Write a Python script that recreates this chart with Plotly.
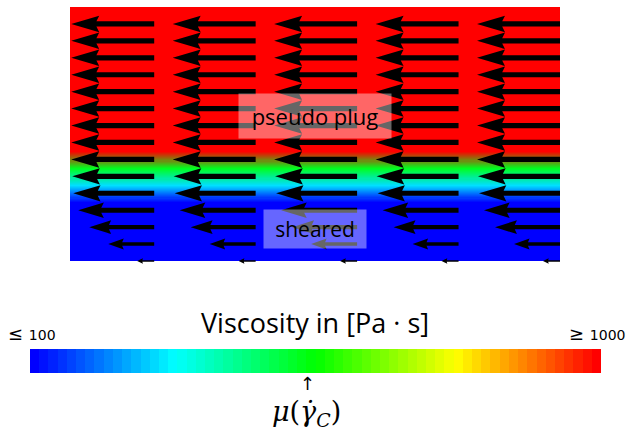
import plotly.graph_objects as go

W, H = 627, 430

# ---------------- data ----------------
# quiver grid (channel coordinates): arrow tails
col_x = [0, 1, 2, 3, 4]
row_y = [0, 1, 2, 3, 4, 5, 6, 7, 8, 9, 10, 11, 12, 13, 14]
# relative velocity magnitude per row (flow towards -x), bottom -> top
speed = [0.205, 0.554, 0.783, 0.916, 0.976, 0.988, 1.0, 1.0, 1.0, 1.0,
         1.0, 1.0, 1.0, 1.0, 1.0]

# viscosity field [Pa s] on row cells, bottom -> top
cell_edges_y = [0, 1, 2, 3, 4, 5, 6, 7, 8, 9, 10, 11, 12, 13, 14, 15]
visc_cells = [100, 100, 100, 100, 298, 523, 1000, 1000, 1000, 1000,
              1000, 1000, 1000, 1000, 1000]
cell_edges_x = [-0.83, 1.585, 4.0]

vmin, vmax = 100, 1000
n_steps = 62

colorscale = [[0.0, "rgb(0,0,255)"], [0.25, "rgb(0,255,255)"],
              [0.5, "rgb(0,255,0)"], [0.75, "rgb(255,255,0)"],
              [1.0, "rgb(255,0,0)"]]

# ---------------- layout geometry ----------------
xd = [70 / W, 560 / W]
xr = [-0.83, 4.0]
ypx_top, ypx_bot = 7.0, 266.93
yr = [-0.35, 15.0]
yd = [(H - ypx_bot) / H, (H - ypx_top) / H]
ppx = (xd[1] - xd[0]) * W / (xr[1] - xr[0])
ppy = (ypx_bot - ypx_top) / (yr[1] - yr[0])

arrow_scale = 0.818  # x-units per unit speed

fig = go.Figure()

fig.add_trace(go.Heatmap(
    x=cell_edges_x, y=cell_edges_y,
    z=[[v, v] for v in visc_cells],
    colorscale=colorscale, zmin=vmin, zmax=vmax, zsmooth="fast",
    showscale=False, hoverinfo="skip", xaxis="x", yaxis="y"))

# quiver arrows as filled polygons
xs, ys = [], []
full_px = arrow_scale * ppx
for yv, sp in zip(row_y, speed):
    L = sp * arrow_scale * ppx
    f = min(1.0, L / full_px)
    s07 = f ** 0.7
    sw = 5.2 * s07
    hw = 16.5 * s07
    hl = 28.0 * f
    hal = 0.9 * hl
    pts = [(0, sw / 2), (L - hal, sw / 2), (L - hl, hw / 2), (L, 0),
           (L - hl, -hw / 2), (L - hal, -sw / 2), (0, -sw / 2), (0, sw / 2)]
    for xv in col_x:
        for a, p in pts:
            xs.append(xv - a / ppx)
            ys.append(yv + p / ppy)
        xs.append(None)
        ys.append(None)

fig.add_trace(go.Scatter(x=xs, y=ys, mode="lines", fill="toself",
                         fillcolor="black", line=dict(width=0, color="black"),
                         hoverinfo="skip", showlegend=False,
                         xaxis="x", yaxis="y"))

# colour bar as stepped heatmap
bar_vals = [vmin + (vmax - vmin) * i / (n_steps - 1) for i in range(n_steps)]
fig.add_trace(go.Heatmap(
    x=list(range(n_steps + 1)), y=[0, 1], z=[bar_vals],
    colorscale=colorscale, zmin=vmin, zmax=vmax, showscale=False,
    hoverinfo="skip", xaxis="x2", yaxis="y2"))

font_main = "Open Sans"
fig.update_layout(
    width=W, height=H, autosize=False,
    margin=dict(l=0, r=0, t=0, b=0),
    paper_bgcolor="white", plot_bgcolor="white",
    showlegend=False,
    xaxis=dict(domain=xd, range=xr, visible=False, fixedrange=True),
    yaxis=dict(domain=yd, range=yr, visible=False, fixedrange=True),
    xaxis2=dict(domain=[30 / W, 601 / W], range=[0, n_steps], visible=False,
                anchor="y2", fixedrange=True),
    yaxis2=dict(domain=[(H - 373) / H, (H - 349) / H], range=[0, 1],
                visible=False, anchor="x2", fixedrange=True),
)

ann = []
ann.append(dict(x=1.585, y=8.56, xref="x", yref="y", text="pseudo plug",
                showarrow=False, font=dict(family=font_main, size=22, color="black"),
                bgcolor="rgba(255,255,255,0.4)", width=152, height=44,
                borderpad=0, xanchor="center", yanchor="middle"))
ann.append(dict(x=1.585, y=1.89, xref="x", yref="y", text="sheared",
                showarrow=False, font=dict(family=font_main, size=21, color="black"),
                bgcolor="rgba(255,255,255,0.4)", width=102, height=38,
                borderpad=0, xanchor="center", yanchor="middle"))
ann.append(dict(x=315 / W, y=(H - 322) / H, xref="paper", yref="paper",
                text="Viscosity in [Pa · s]", showarrow=False,
                font=dict(family=font_main, size=27, color="black"),
                xanchor="center", yanchor="middle"))
ann.append(dict(x=6 / W, y=(H - 333) / H, xref="paper", yref="paper",
                text="≤ <span style='font-size:14px'>100</span>", showarrow=False,
                font=dict(family="DejaVu Sans", size=18, color="black"),
                xanchor="left", yanchor="middle"))
ann.append(dict(x=627 / W, y=(H - 333) / H, xref="paper", yref="paper",
                text="≥ <span style='font-size:14px'>1000</span>", showarrow=False,
                font=dict(family="DejaVu Sans", size=18, color="black"),
                xanchor="right", yanchor="middle"))
ann.append(dict(x=307 / W, y=(H - 383) / H, xref="paper", yref="paper",
                text="↑", showarrow=False,
                font=dict(family="DejaVu Sans", size=18, color="black"),
                xanchor="center", yanchor="middle"))
ann.append(dict(x=306 / W, y=(H - 413) / H, xref="paper", yref="paper",
                text="<i>μ</i>(<i>γ̇</i><sub><i>C</i></sub>)", showarrow=False,
                font=dict(family="DejaVu Serif", size=27, color="black"),
                xanchor="center", yanchor="middle"))
fig.update_layout(annotations=ann)

fig.write_html("out.html", config={"displayModeBar": False},
               post_script="document.body.style.margin='0px';")
